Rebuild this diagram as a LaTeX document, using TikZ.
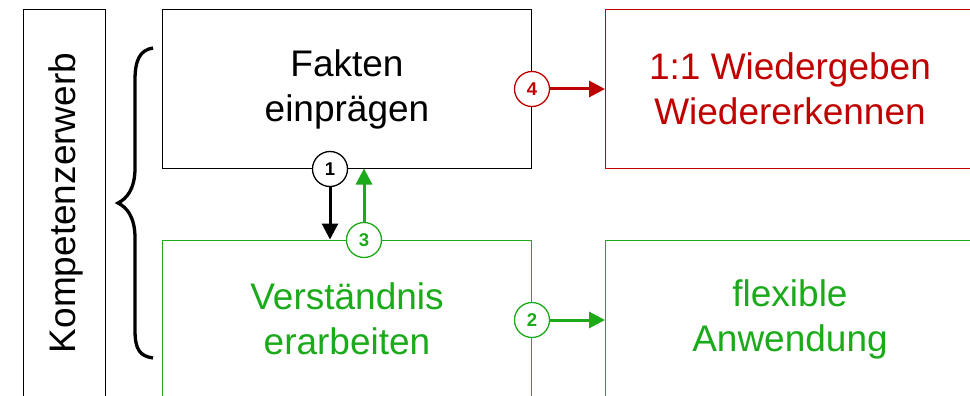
\documentclass[tikz,border=0pt]{standalone}
\usepackage{fontspec}
\setmainfont{Liberation Sans}
\usetikzlibrary{arrows.meta}
\definecolor{myred}{RGB}{192,0,0}
\definecolor{mygreen}{RGB}{26,170,26}
\begin{document}
\begin{tikzpicture}[x=1pt,y=-1pt,
  box/.style={draw, line width=1pt, minimum width=369pt, minimum height=158pt, align=center, font=\fontsize{37}{45}\selectfont, inner sep=0pt},
  num/.style={circle, draw, fill=white, line width=1.3pt, minimum size=35pt, inner sep=0pt, font=\fontsize{18.5}{18.5}\selectfont\bfseries},
  arr/.style={line width=3pt, -{Triangle[length=16pt,width=16pt]}}
]
\useasboundingbox (0,0) rectangle (970,396);
\begin{scope}
\clip (0,0) rectangle (970,396);
\node[draw, line width=1pt, minimum width=82pt, minimum height=388pt, inner sep=0pt] (kb) at (64,204) {};
\node[rotate=90, font=\fontsize{37}{45}\selectfont, inner sep=0pt] (kt) at (66,203) {Kompetenzerwerb};
\draw[line width=3.3pt] (153,48) .. controls (140,50) and (135,60) .. (135,80) -- (135,168) .. controls (135,190) and (126,199) .. (118,203) .. controls (126,207) and (135,216) .. (135,238) -- (135,330) .. controls (135,350) and (140,356) .. (153,358);
\node[box] (fb) at (347,89) {Fakten\\einprägen};
\node[box, draw=myred, text=myred] (rb) at (790,89) {1:1 Wiedergeben\\Wiedererkennen};
\node[box, draw=mygreen, text=mygreen] (vb) at (347,319) {Verständnis\\erarbeiten};
\node[box, draw=mygreen, text=mygreen] (ab) at (790,319) {flexible\\Anwendung};
\node[num] (n1) at (330,169) {1};
\node[num, draw=mygreen, text=mygreen] (n3) at (364,240) {3};
\node[num, draw=myred, text=myred] (n4) at (532,89) {4};
\node[num, draw=mygreen, text=mygreen] (n2) at (532,320) {2};
\draw[arr] (n1.south) -- (n1.south |- vb.north);
\draw[arr, mygreen] (n3.north) -- (n3.north |- fb.south);
\draw[arr, myred] (n4.east) -- (n4.east -| rb.west);
\draw[arr, mygreen] (n2.east) -- (n2.east -| ab.west);
\end{scope}
\end{tikzpicture}
\end{document}
